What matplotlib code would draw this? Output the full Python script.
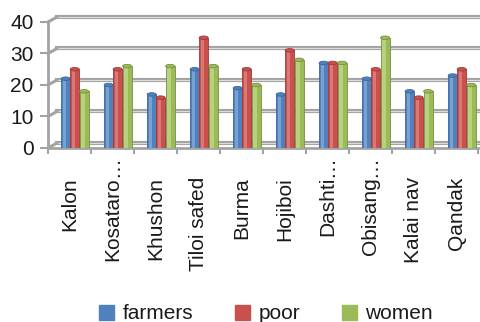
import matplotlib.pyplot as plt
import numpy as np
from matplotlib.patches import Patch, Ellipse
from matplotlib.transforms import ScaledTranslation, blended_transform_factory

plt.rcParams['font.family'] = ['Liberation Sans', 'DejaVu Sans']

# Village data
villages = ['Kalon', 'Kosataro', 'Khushon', 'Tiloi safed', 'Burma',
            'Hojiboi', 'Dashti', 'Obisang', 'Kalai nav', 'Qandak']
truncated = [False, True, False, False, False, False, True, True, False, False]
farmers = [22, 20, 17, 25, 19, 17, 27, 22, 18, 23]
poor = [25, 25, 16, 35, 25, 31, 27, 25, 16, 25]
women = [18, 26, 26, 26, 20, 28, 27, 35, 18, 20]

series = [('farmers', farmers, '#4f81bd', '#a4c2e6', '#3a6699'),
          ('poor', poor, '#c9504d', '#eba09e', '#9c3b39'),
          ('women', women, '#9bbb59', '#d3e8a6', '#76913f')]

fig = plt.figure(figsize=(4.81, 3.22), dpi=100)
ax = fig.add_axes([0.0998, 0.5404, 0.894, 0.3913])
ax.set_xlim(-0.5, len(villages) - 0.5)
ax.set_ylim(0, 40)

grid_col = '#a3a3a3'
# back wall offset of the pseudo-3D frame
back = ax.transData + ScaledTranslation(0.09, 0.05, fig.dpi_scale_trans)
for v in range(0, 41, 10):
    ax.plot([-0.5, len(villages) - 0.5], [v, v], transform=back,
            color=grid_col, lw=3, clip_on=False, zorder=1)
    ax.plot([-0.5, len(villages) - 0.5], [v, v], transform=back,
            color='#dcdcdc', lw=0.8, clip_on=False, zorder=1)
    ax.annotate('', xy=(-0.5, v), xycoords=back, xytext=(-0.5, v),
                textcoords='data',
                arrowprops=dict(arrowstyle='-', color=grid_col, lw=2.2,
                                shrinkA=0, shrinkB=0), zorder=1)

x = np.arange(len(villages))
w = 0.21
offsets = [-0.09, 0.12, 0.34]
for (name, vals, col, light, dark), off in zip(series, offsets):
    ax.bar(x + off, vals, width=w, color=col, edgecolor=dark, lw=0.6,
           zorder=3)
    ax.bar(x + off - w * 0.12, vals, width=w * 0.35, color=light,
           alpha=0.5, lw=0, zorder=4)
    # rounded cylinder caps
    for xi, v in zip(x + off, vals):
        ax.add_patch(Ellipse((xi, v), w, 1.1, facecolor=col,
                             edgecolor=dark, lw=0.6, zorder=5))

for s in ['top', 'right']:
    ax.spines[s].set_visible(False)
for s in ['left', 'bottom']:
    ax.spines[s].set_color(grid_col)
    ax.spines[s].set_linewidth(2)

ax.set_yticks(range(0, 41, 10))
ax.tick_params(axis='y', length=5.5, width=1.5, color=grid_col,
               labelsize=15, pad=5, labelcolor='#1a1a1a')
ax.set_xticks(np.arange(-0.5, len(villages)))
ax.set_xticklabels([])
ax.tick_params(axis='x', length=4.5, width=1.5, color=grid_col)

# rotated category labels; the ellipsis of shortened names overflows upward
lab_tr = blended_transform_factory(ax.transData, fig.transFigure)
y_lab = 1 - 177 / 322
for i, (name, cut) in enumerate(zip(villages, truncated)):
    ax.text(i, y_lab, name, rotation=90, ha='center', va='top',
            fontsize=15, color='#1a1a1a', transform=lab_tr)
    if cut:
        ax.text(i, y_lab, '\u2026', rotation=90, ha='center', va='bottom',
                fontsize=15, color='#1a1a1a', transform=lab_tr)

handles = [Patch(facecolor=c, edgecolor=c) for _, _, c, _, _ in series]
fig.legend(handles, [s[0] for s in series], loc='center',
           bbox_to_anchor=(0.553, 0.025), ncol=3, frameon=False,
           fontsize=15, handlelength=0.72, handleheight=0.72,
           handletextpad=0.4, columnspacing=2.0, labelcolor='#1a1a1a')

fig.savefig('out.png', dpi=100)
